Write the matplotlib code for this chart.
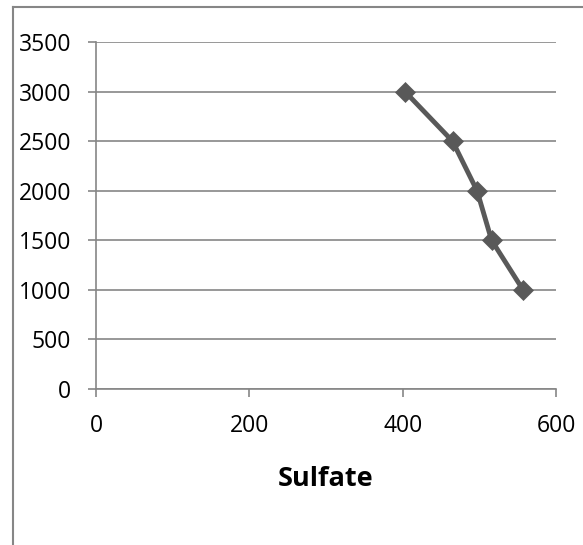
import matplotlib.pyplot as plt
from matplotlib.lines import Line2D

sulfate = [403, 465, 497, 516, 557]
depth = [3000, 2500, 2000, 1500, 1000]
x_ticks = [0, 200, 400, 600]
y_ticks = [0, 500, 1000, 1500, 2000, 2500, 3000, 3500]

plt.rcParams['font.family'] = ['Open Sans', 'DejaVu Sans']

W, H = 583, 545
fig = plt.figure(figsize=(W / 100, H / 100), dpi=100)
ax = fig.add_axes([96 / W, 1 - 389 / H, (556 - 96) / W, (389 - 42) / H])

grid_col = '#868686'
ax.plot(sulfate, depth, color='#595959', linewidth=3.5, marker='D',
        markersize=10, markerfacecolor='#595959', markeredgecolor='#595959',
        markeredgewidth=0.5, zorder=3, clip_on=False)

ax.set_xlim(0, 600)
ax.set_ylim(0, 3500)
ax.set_xticks(x_ticks)
ax.set_yticks(y_ticks)
ax.yaxis.grid(True, color=grid_col, linewidth=1.2)
ax.set_axisbelow(True)

for side in ('top', 'right'):
    ax.spines[side].set_visible(False)
for side in ('left', 'bottom'):
    ax.spines[side].set_color(grid_col)
    ax.spines[side].set_linewidth(1.2)

ax.tick_params(axis='both', colors=grid_col, labelcolor='black',
               labelsize=16.5, length=6, width=1.2, direction='out')
ax.tick_params(axis='x', pad=12)
ax.tick_params(axis='y', pad=12)

ax.set_xlabel('Sulfate', fontsize=19.5, fontweight='bold', labelpad=20)

# outer chart border (left and top edges visible in the crop)
fig.add_artist(Line2D([13 / W, 13 / W], [0, 1 - 7 / H], color=grid_col,
                      linewidth=1.5, transform=fig.transFigure))
fig.add_artist(Line2D([13 / W, 1], [1 - 7 / H, 1 - 7 / H], color=grid_col,
                      linewidth=1.5, transform=fig.transFigure))

fig.savefig('out.png', dpi=100)
